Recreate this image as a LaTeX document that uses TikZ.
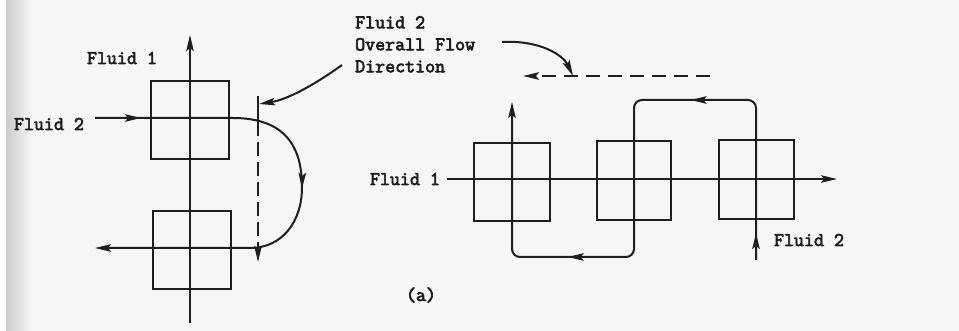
\documentclass[tikz,border=0pt]{standalone}
\usepackage{fontspec}
\newfontfamily\tw{Latin Modern Mono}[FakeBold=3.5]
\usetikzlibrary{arrows.meta,decorations.markings}
\definecolor{ink}{HTML}{1E1E1E}
\definecolor{paper}{HTML}{F6F6F6}
\tikzset{tipshape/.tip={Stealth[length=16pt,width=7.5pt,inset=3pt]}}
\begin{document}
\begin{tikzpicture}[x=1pt,y=-1pt,
  ln/.style={draw=ink,line width=2pt},
  tipend/.style={-tipshape},
  hx/.style 2 args={draw=ink,line width=2.3pt,minimum width=#1,minimum height=#2,inner sep=0pt},
  lbl/.style={font=\tw\fontsize{19.4}{22}\selectfont,text=ink,inner sep=0pt}
]
\useasboundingbox (0,0) rectangle (959,331);
\fill[paper] (0,0) rectangle (959,331);
\fill[white] (0,0) rectangle (6,331);
\shade[left color=gray!40,right color=paper] (6,0) rectangle (32,331);

% ---------- left figure ----------
\node[hx={78pt}{78pt}] (bA) at (190,120) {};
\node[hx={78pt}{78pt}] (bB) at (192,250) {};
\coordinate (f1b) at (190,323);
\coordinate (f1t) at (190,35);
\draw[ln,tipend] (f1b) -- (f1t);
\node[lbl] (lf1) at (122,58) {Fluid 1};
\node[lbl] (lf2) at (49,124) {Fluid 2};

\coordinate (p0) at (95,118);
\coordinate (p1) at (233,118);
\coordinate (p2) at (302,187);
\coordinate (p3) at (250,248);
\coordinate (p4) at (95,248);
\draw[ln,tipend,postaction={decorate,decoration={markings,
   mark=at position 46pt with {\arrow{tipshape}},
   mark=at position 252pt with {\arrow{tipshape}}}}]
  (p0) -- (p1) .. controls (288,118) and (302,150) .. (p2)
       .. controls (302,222) and (282,248) .. (p3) -- (p4);

\coordinate (dt) at (258,96);
\coordinate (db) at (258,262);
\draw[ln,tipend,dash pattern=on 40pt off 6pt on 14pt off 6pt on 14pt off 6pt on 14pt off 6pt on 14pt off 6pt on 14pt off 6pt on 40pt] (dt) -- (db);

\node[lbl,align=left,anchor=north west] (title) at (355,16) {Fluid 2\\Overall Flow\\Direction};
\coordinate (ptA) at (342,65);
\coordinate (ptAe) at (259,104);
\draw[ln,tipend] (ptA) .. controls (310,88) and (285,100) .. (ptAe);

% ---------- right figure ----------
\node[hx={76pt}{78pt}] (c1) at (512,182) {};
\node[hx={74pt}{79pt}] (c2) at (634,180.5) {};
\node[hx={75pt}{79pt}] (c3) at (756.5,179.5) {};

\coordinate (h0) at (447,179);
\coordinate (h1) at (837,179);
\draw[ln,tipend] (h0) -- (h1);
\node[lbl] (rf1) at (405,179) {Fluid 1};

\coordinate (q0) at (756,260);
\coordinate (q1) at (756,100);
\coordinate (q2) at (634,100);
\coordinate (q3) at (634,257);
\coordinate (q4) at (512,257);
\coordinate (q5) at (512,102);
\draw[ln,tipend,rounded corners=8pt,postaction={decorate,decoration={markings,
   mark=at position 27pt with {\arrow{tipshape}},
   mark=at position 222pt with {\arrow{tipshape}},
   mark=at position 495pt with {\arrow{tipshape}}}}]
  (q0) -- (q1) -- (q2) -- (q3) -- (q4) -- (q5);
\node[lbl] (rf2) at (809,240) {Fluid 2};

\coordinate (ptB) at (502,42);
\coordinate (ptBe) at (573,76);
\draw[ln,tipend] (ptB) .. controls (540,40) and (563,55) .. (ptBe);
\coordinate (dr) at (710,76);
\coordinate (dl) at (523,76);
\draw[ln,tipend,dash pattern=on 14pt off 8pt] (dr) -- (dl);

\node[lbl] (cap) at (421,295) {(a)};
\end{tikzpicture}
\end{document}
